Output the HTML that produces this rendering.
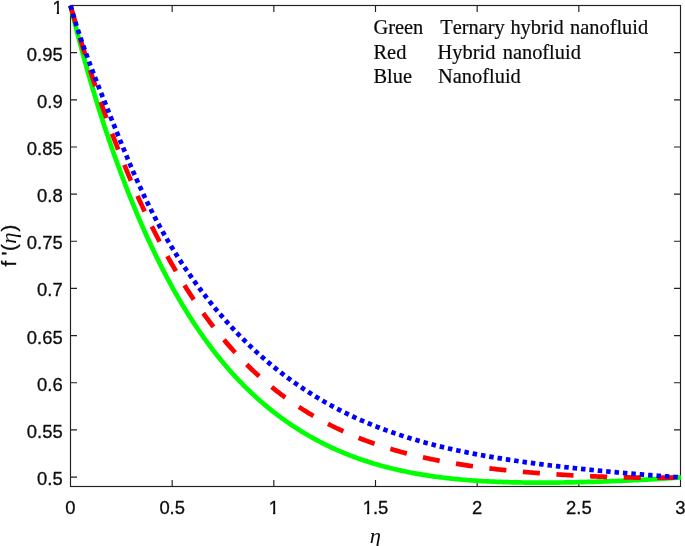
<!DOCTYPE html>
<html lang="en"><head><meta charset="utf-8"><title>f'(η) profile</title>
<style>
html,body{margin:0;padding:0;background:#fff;}
body{width:685px;height:546px;overflow:hidden;}
svg{display:block;}
.t{font-family:"Liberation Sans",Arial,Helvetica,sans-serif;font-size:19.2px;fill:#0c0c0c;stroke:#0c0c0c;stroke-width:0.3px;}
.l{font-family:"Liberation Serif","Times New Roman",serif;font-size:20.4px;fill:#0a0a0a;stroke:#0a0a0a;stroke-width:0.2px;font-kerning:none;}
.e{font-family:"Liberation Serif","Times New Roman",serif;font-style:italic;stroke:none;}
</style></head>
<body>
<svg width="685" height="546" viewBox="0 0 685 546">
<rect width="685" height="546" fill="#fff"/>
<defs><clipPath id="c1"><rect x="-1" y="-23.04" width="15.36" height="20.66"/><rect x="4.53" y="-2.63" width="2.30" height="3.23"/></clipPath></defs>
<rect x="70.5" y="5.5" width="610.0" height="481.0" fill="none" stroke="#202020" stroke-width="1.15"/>
<path d="M172.17,486.5v-6.5M172.17,5.5v6.5M273.83,486.5v-6.5M273.83,5.5v6.5M375.50,486.5v-6.5M375.50,5.5v6.5M477.17,486.5v-6.5M477.17,5.5v6.5M578.83,486.5v-6.5M578.83,5.5v6.5M70.5,52.66h6.5M680.5,52.66h-6.5M70.5,99.81h6.5M680.5,99.81h-6.5M70.5,146.97h6.5M680.5,146.97h-6.5M70.5,194.13h6.5M680.5,194.13h-6.5M70.5,241.28h6.5M680.5,241.28h-6.5M70.5,288.44h6.5M680.5,288.44h-6.5M70.5,335.60h6.5M680.5,335.60h-6.5M70.5,382.76h6.5M680.5,382.76h-6.5M70.5,429.91h6.5M680.5,429.91h-6.5M70.5,477.07h6.5M680.5,477.07h-6.5" fill="none" stroke="#202020" stroke-width="1.15"/>
<path d="M70.50,5.50 L72.03,11.79 L73.56,17.99 L75.09,24.09 L76.62,30.11 L78.15,36.04 L79.68,41.89 L81.21,47.65 L82.74,53.34 L84.27,58.94 L85.80,64.46 L87.33,69.91 L88.86,75.28 L90.39,80.58 L91.92,85.81 L93.45,90.97 L94.98,96.06 L96.51,101.09 L98.04,106.05 L99.57,110.94 L101.10,115.77 L102.63,120.54 L104.16,125.25 L105.69,129.90 L107.22,134.50 L108.75,139.03 L110.28,143.52 L111.81,147.94 L113.34,152.32 L114.87,156.64 L116.40,160.91 L117.93,165.13 L119.46,169.30 L120.99,173.42 L122.52,177.49 L124.05,181.52 L125.58,185.49 L127.11,189.43 L128.64,193.32 L130.17,197.16 L131.70,200.96 L133.23,204.72 L134.76,208.44 L136.29,212.11 L137.82,215.74 L139.35,219.33 L140.88,222.88 L142.41,226.39 L143.94,229.86 L145.47,233.29 L147.00,236.67 L148.53,240.02 L150.06,243.34 L151.59,246.61 L153.12,249.84 L154.65,253.04 L156.18,256.20 L157.71,259.32 L159.24,262.40 L160.77,265.45 L162.30,268.46 L163.83,271.44 L165.36,274.38 L166.89,277.29 L168.42,280.16 L169.95,282.99 L171.48,285.80 L173.02,288.56 L174.55,291.30 L176.08,294.00 L177.61,296.67 L179.14,299.31 L180.67,301.91 L182.20,304.49 L183.73,307.03 L185.26,309.54 L186.79,312.02 L188.32,314.47 L189.85,316.89 L191.38,319.28 L192.91,321.64 L194.44,323.97 L195.97,326.27 L197.50,328.55 L199.03,330.79 L200.56,333.01 L202.09,335.20 L203.62,337.37 L205.15,339.50 L206.68,341.61 L208.21,343.70 L209.74,345.76 L211.27,347.79 L212.80,349.80 L214.33,351.78 L215.86,353.73 L217.39,355.67 L218.92,357.58 L220.45,359.46 L221.98,361.32 L223.51,363.16 L225.04,364.97 L226.57,366.76 L228.10,368.53 L229.63,370.28 L231.16,372.00 L232.69,373.70 L234.22,375.38 L235.75,377.04 L237.28,378.68 L238.81,380.30 L240.34,381.90 L241.87,383.47 L243.40,385.03 L244.93,386.57 L246.46,388.08 L247.99,389.58 L249.52,391.06 L251.05,392.52 L252.58,393.96 L254.11,395.38 L255.64,396.78 L257.17,398.17 L258.70,399.54 L260.23,400.89 L261.76,402.22 L263.29,403.54 L264.82,404.84 L266.35,406.12 L267.88,407.38 L269.41,408.63 L270.94,409.86 L272.47,411.08 L274.00,412.28 L275.53,413.47 L277.06,414.64 L278.59,415.79 L280.12,416.93 L281.65,418.05 L283.18,419.16 L284.71,420.26 L286.24,421.34 L287.77,422.41 L289.30,423.46 L290.83,424.50 L292.36,425.52 L293.89,426.53 L295.42,427.53 L296.95,428.51 L298.48,429.48 L300.01,430.44 L301.54,431.39 L303.07,432.32 L304.60,433.24 L306.13,434.15 L307.66,435.04 L309.19,435.93 L310.72,436.80 L312.25,437.66 L313.78,438.50 L315.31,439.34 L316.84,440.16 L318.37,440.97 L319.90,441.78 L321.43,442.57 L322.96,443.34 L324.49,444.11 L326.02,444.87 L327.55,445.61 L329.08,446.35 L330.61,447.07 L332.14,447.79 L333.67,448.49 L335.20,449.18 L336.73,449.87 L338.26,450.54 L339.79,451.20 L341.32,451.86 L342.85,452.50 L344.38,453.13 L345.91,453.76 L347.44,454.37 L348.97,454.98 L350.50,455.57 L352.03,456.16 L353.56,456.74 L355.09,457.31 L356.62,457.87 L358.15,458.42 L359.68,458.96 L361.21,459.49 L362.74,460.01 L364.27,460.53 L365.80,461.04 L367.33,461.54 L368.86,462.03 L370.39,462.51 L371.92,462.99 L373.45,463.45 L374.98,463.91 L376.52,464.36 L378.05,464.81 L379.58,465.24 L381.11,465.67 L382.64,466.09 L384.17,466.51 L385.70,466.91 L387.23,467.31 L388.76,467.71 L390.29,468.09 L391.82,468.47 L393.35,468.84 L394.88,469.20 L396.41,469.56 L397.94,469.91 L399.47,470.26 L401.00,470.60 L402.53,470.93 L404.06,471.25 L405.59,471.57 L407.12,471.88 L408.65,472.19 L410.18,472.49 L411.71,472.79 L413.24,473.08 L414.77,473.36 L416.30,473.64 L417.83,473.91 L419.36,474.18 L420.89,474.44 L422.42,474.69 L423.95,474.94 L425.48,475.19 L427.01,475.43 L428.54,475.66 L430.07,475.89 L431.60,476.11 L433.13,476.33 L434.66,476.55 L436.19,476.75 L437.72,476.96 L439.25,477.16 L440.78,477.35 L442.31,477.54 L443.84,477.73 L445.37,477.91 L446.90,478.09 L448.43,478.26 L449.96,478.43 L451.49,478.60 L453.02,478.76 L454.55,478.91 L456.08,479.06 L457.61,479.21 L459.14,479.36 L460.67,479.50 L462.20,479.63 L463.73,479.76 L465.26,479.89 L466.79,480.02 L468.32,480.14 L469.85,480.26 L471.38,480.37 L472.91,480.48 L474.44,480.59 L475.97,480.70 L477.50,480.80 L479.03,480.89 L480.56,480.99 L482.09,481.08 L483.62,481.17 L485.15,481.25 L486.68,481.34 L488.21,481.42 L489.74,481.49 L491.27,481.57 L492.80,481.64 L494.33,481.70 L495.86,481.77 L497.39,481.83 L498.92,481.89 L500.45,481.95 L501.98,482.00 L503.51,482.06 L505.04,482.10 L506.57,482.15 L508.10,482.20 L509.63,482.24 L511.16,482.28 L512.69,482.32 L514.22,482.35 L515.75,482.39 L517.28,482.42 L518.81,482.44 L520.34,482.47 L521.87,482.50 L523.40,482.52 L524.93,482.54 L526.46,482.56 L527.99,482.57 L529.52,482.59 L531.05,482.60 L532.58,482.61 L534.11,482.62 L535.64,482.63 L537.17,482.63 L538.70,482.64 L540.23,482.64 L541.76,482.64 L543.29,482.64 L544.82,482.64 L546.35,482.63 L547.88,482.63 L549.41,482.62 L550.94,482.61 L552.47,482.60 L554.00,482.59 L555.53,482.57 L557.06,482.56 L558.59,482.54 L560.12,482.52 L561.65,482.50 L563.18,482.48 L564.71,482.46 L566.24,482.44 L567.77,482.41 L569.30,482.38 L570.83,482.36 L572.36,482.33 L573.89,482.30 L575.42,482.27 L576.95,482.23 L578.48,482.20 L580.02,482.17 L581.55,482.13 L583.08,482.09 L584.61,482.05 L586.14,482.01 L587.67,481.97 L589.20,481.93 L590.73,481.89 L592.26,481.85 L593.79,481.80 L595.32,481.75 L596.85,481.71 L598.38,481.66 L599.91,481.61 L601.44,481.56 L602.97,481.51 L604.50,481.45 L606.03,481.40 L607.56,481.34 L609.09,481.29 L610.62,481.23 L612.15,481.17 L613.68,481.11 L615.21,481.05 L616.74,480.99 L618.27,480.93 L619.80,480.87 L621.33,480.80 L622.86,480.74 L624.39,480.67 L625.92,480.60 L627.45,480.54 L628.98,480.47 L630.51,480.40 L632.04,480.32 L633.57,480.25 L635.10,480.18 L636.63,480.10 L638.16,480.03 L639.69,479.95 L641.22,479.87 L642.75,479.79 L644.28,479.71 L645.81,479.63 L647.34,479.55 L648.87,479.46 L650.40,479.38 L651.93,479.29 L653.46,479.20 L654.99,479.11 L656.52,479.02 L658.05,478.93 L659.58,478.84 L661.11,478.75 L662.64,478.65 L664.17,478.55 L665.70,478.46 L667.23,478.36 L668.76,478.26 L670.29,478.15 L671.82,478.05 L673.35,477.95 L674.88,477.84 L676.41,477.73 L677.94,477.62 L679.47,477.51 L681.00,477.40" fill="none" stroke="#00ff00" stroke-width="4.7" stroke-linejoin="round"/>
<path d="M70.50,5.50 L72.03,10.85 L73.56,16.15 L75.09,21.39 L76.62,26.59 L78.15,31.73 L79.68,36.83 L81.21,41.87 L82.74,46.86 L84.27,51.81 L85.80,56.70 L87.33,61.55 L88.86,66.34 L90.39,71.09 L91.92,75.79 L93.45,80.45 L94.98,85.06 L96.51,89.62 L98.04,94.13 L99.57,98.60 L101.10,103.03 L102.63,107.41 L104.16,111.74 L105.69,116.03 L107.22,120.28 L108.75,124.48 L110.28,128.64 L111.81,132.76 L113.34,136.83 L114.87,140.86 L116.40,144.85 L117.93,148.80 L119.46,152.71 L120.99,156.58 L122.52,160.40 L124.05,164.19 L125.58,167.94 L127.11,171.64 L128.64,175.31 L130.17,178.94 L131.70,182.53 L133.23,186.08 L134.76,189.60 L136.29,193.08 L137.82,196.52 L139.35,199.92 L140.88,203.29 L142.41,206.62 L143.94,209.92 L145.47,213.18 L147.00,216.40 L148.53,219.59 L150.06,222.75 L151.59,225.87 L153.12,228.96 L154.65,232.01 L156.18,235.03 L157.71,238.02 L159.24,240.98 L160.77,243.90 L162.30,246.79 L163.83,249.65 L165.36,252.47 L166.89,255.27 L168.42,258.03 L169.95,260.77 L171.48,263.47 L173.02,266.14 L174.55,268.79 L176.08,271.40 L177.61,273.99 L179.14,276.54 L180.67,279.07 L182.20,281.57 L183.73,284.04 L185.26,286.48 L186.79,288.90 L188.32,291.29 L189.85,293.65 L191.38,295.98 L192.91,298.29 L194.44,300.57 L195.97,302.83 L197.50,305.06 L199.03,307.26 L200.56,309.44 L202.09,311.59 L203.62,313.72 L205.15,315.83 L206.68,317.91 L208.21,319.96 L209.74,321.99 L211.27,324.00 L212.80,325.99 L214.33,327.95 L215.86,329.89 L217.39,331.81 L218.92,333.70 L220.45,335.58 L221.98,337.43 L223.51,339.26 L225.04,341.06 L226.57,342.85 L228.10,344.62 L229.63,346.36 L231.16,348.08 L232.69,349.79 L234.22,351.47 L235.75,353.14 L237.28,354.78 L238.81,356.41 L240.34,358.01 L241.87,359.60 L243.40,361.17 L244.93,362.71 L246.46,364.25 L247.99,365.76 L249.52,367.25 L251.05,368.73 L252.58,370.19 L254.11,371.63 L255.64,373.05 L257.17,374.46 L258.70,375.85 L260.23,377.22 L261.76,378.58 L263.29,379.92 L264.82,381.25 L266.35,382.56 L267.88,383.85 L269.41,385.13 L270.94,386.39 L272.47,387.63 L274.00,388.87 L275.53,390.08 L277.06,391.28 L278.59,392.47 L280.12,393.64 L281.65,394.80 L283.18,395.95 L284.71,397.08 L286.24,398.19 L287.77,399.30 L289.30,400.39 L290.83,401.46 L292.36,402.53 L293.89,403.58 L295.42,404.61 L296.95,405.64 L298.48,406.65 L300.01,407.65 L301.54,408.64 L303.07,409.61 L304.60,410.57 L306.13,411.53 L307.66,412.47 L309.19,413.39 L310.72,414.31 L312.25,415.21 L313.78,416.11 L315.31,416.99 L316.84,417.86 L318.37,418.72 L319.90,419.57 L321.43,420.41 L322.96,421.24 L324.49,422.06 L326.02,422.87 L327.55,423.67 L329.08,424.45 L330.61,425.23 L332.14,426.00 L333.67,426.76 L335.20,427.51 L336.73,428.25 L338.26,428.98 L339.79,429.70 L341.32,430.41 L342.85,431.11 L344.38,431.80 L345.91,432.49 L347.44,433.16 L348.97,433.83 L350.50,434.48 L352.03,435.13 L353.56,435.77 L355.09,436.41 L356.62,437.03 L358.15,437.65 L359.68,438.25 L361.21,438.85 L362.74,439.44 L364.27,440.03 L365.80,440.60 L367.33,441.17 L368.86,441.73 L370.39,442.29 L371.92,442.83 L373.45,443.37 L374.98,443.90 L376.52,444.43 L378.05,444.94 L379.58,445.45 L381.11,445.96 L382.64,446.45 L384.17,446.94 L385.70,447.42 L387.23,447.90 L388.76,448.37 L390.29,448.83 L391.82,449.29 L393.35,449.74 L394.88,450.18 L396.41,450.62 L397.94,451.06 L399.47,451.48 L401.00,451.90 L402.53,452.32 L404.06,452.72 L405.59,453.13 L407.12,453.53 L408.65,453.92 L410.18,454.30 L411.71,454.68 L413.24,455.06 L414.77,455.43 L416.30,455.80 L417.83,456.16 L419.36,456.51 L420.89,456.86 L422.42,457.21 L423.95,457.55 L425.48,457.88 L427.01,458.21 L428.54,458.54 L430.07,458.86 L431.60,459.18 L433.13,459.49 L434.66,459.80 L436.19,460.10 L437.72,460.40 L439.25,460.70 L440.78,460.99 L442.31,461.28 L443.84,461.56 L445.37,461.84 L446.90,462.11 L448.43,462.38 L449.96,462.65 L451.49,462.91 L453.02,463.17 L454.55,463.43 L456.08,463.68 L457.61,463.93 L459.14,464.18 L460.67,464.42 L462.20,464.66 L463.73,464.89 L465.26,465.12 L466.79,465.35 L468.32,465.58 L469.85,465.80 L471.38,466.02 L472.91,466.23 L474.44,466.44 L475.97,466.65 L477.50,466.86 L479.03,467.06 L480.56,467.27 L482.09,467.46 L483.62,467.66 L485.15,467.85 L486.68,468.04 L488.21,468.23 L489.74,468.41 L491.27,468.60 L492.80,468.77 L494.33,468.95 L495.86,469.13 L497.39,469.30 L498.92,469.47 L500.45,469.63 L501.98,469.80 L503.51,469.96 L505.04,470.12 L506.57,470.28 L508.10,470.44 L509.63,470.59 L511.16,470.74 L512.69,470.89 L514.22,471.04 L515.75,471.18 L517.28,471.33 L518.81,471.47 L520.34,471.61 L521.87,471.75 L523.40,471.88 L524.93,472.02 L526.46,472.15 L527.99,472.28 L529.52,472.40 L531.05,472.53 L532.58,472.66 L534.11,472.78 L535.64,472.90 L537.17,473.02 L538.70,473.14 L540.23,473.25 L541.76,473.37 L543.29,473.48 L544.82,473.59 L546.35,473.70 L547.88,473.81 L549.41,473.91 L550.94,474.02 L552.47,474.12 L554.00,474.22 L555.53,474.32 L557.06,474.42 L558.59,474.52 L560.12,474.62 L561.65,474.71 L563.18,474.80 L564.71,474.89 L566.24,474.98 L567.77,475.07 L569.30,475.16 L570.83,475.24 L572.36,475.33 L573.89,475.41 L575.42,475.49 L576.95,475.57 L578.48,475.65 L580.02,475.73 L581.55,475.80 L583.08,475.88 L584.61,475.95 L586.14,476.02 L587.67,476.09 L589.20,476.16 L590.73,476.23 L592.26,476.30 L593.79,476.36 L595.32,476.42 L596.85,476.49 L598.38,476.55 L599.91,476.61 L601.44,476.66 L602.97,476.72 L604.50,476.78 L606.03,476.83 L607.56,476.88 L609.09,476.93 L610.62,476.98 L612.15,477.03 L613.68,477.07 L615.21,477.12 L616.74,477.16 L618.27,477.20 L619.80,477.25 L621.33,477.28 L622.86,477.32 L624.39,477.36 L625.92,477.39 L627.45,477.42 L628.98,477.45 L630.51,477.48 L632.04,477.51 L633.57,477.54 L635.10,477.56 L636.63,477.58 L638.16,477.61 L639.69,477.62 L641.22,477.64 L642.75,477.66 L644.28,477.67 L645.81,477.68 L647.34,477.69 L648.87,477.70 L650.40,477.71 L651.93,477.71 L653.46,477.72 L654.99,477.72 L656.52,477.72 L658.05,477.71 L659.58,477.71 L661.11,477.70 L662.64,477.69 L664.17,477.68 L665.70,477.66 L667.23,477.65 L668.76,477.63 L670.29,477.61 L671.82,477.59 L673.35,477.56 L674.88,477.53 L676.41,477.50 L677.94,477.47 L679.47,477.44 L681.00,477.40" fill="none" stroke="#ff0000" stroke-width="4.7" stroke-dasharray="17.1 16.57" stroke-linejoin="round"/>
<path d="M70.50,5.50 L72.03,10.81 L73.56,15.97 L75.09,20.98 L76.62,25.85 L78.15,30.60 L79.68,35.23 L81.21,39.76 L82.74,44.20 L84.27,48.55 L85.80,52.83 L87.33,57.03 L88.86,61.18 L90.39,65.27 L91.92,69.32 L93.45,73.32 L94.98,77.30 L96.51,81.24 L98.04,85.15 L99.57,89.05 L101.10,92.92 L102.63,96.79 L104.16,100.64 L105.69,104.48 L107.22,108.31 L108.75,112.14 L110.28,115.96 L111.81,119.78 L113.34,123.59 L114.87,127.40 L116.40,131.19 L117.93,134.98 L119.46,138.75 L120.99,142.51 L122.52,146.26 L124.05,149.98 L125.58,153.68 L127.11,157.35 L128.64,160.99 L130.17,164.60 L131.70,168.18 L133.23,171.72 L134.76,175.23 L136.29,178.69 L137.82,182.12 L139.35,185.50 L140.88,188.85 L142.41,192.14 L143.94,195.40 L145.47,198.61 L147.00,201.78 L148.53,204.90 L150.06,207.98 L151.59,211.01 L153.12,214.00 L154.65,216.95 L156.18,219.85 L157.71,222.71 L159.24,225.53 L160.77,228.32 L162.30,231.06 L163.83,233.77 L165.36,236.44 L166.89,239.08 L168.42,241.68 L169.95,244.25 L171.48,246.78 L173.02,249.29 L174.55,251.76 L176.08,254.20 L177.61,256.62 L179.14,259.00 L180.67,261.36 L182.20,263.69 L183.73,266.00 L185.26,268.27 L186.79,270.53 L188.32,272.75 L189.85,274.96 L191.38,277.14 L192.91,279.30 L194.44,281.43 L195.97,283.54 L197.50,285.63 L199.03,287.70 L200.56,289.75 L202.09,291.78 L203.62,293.78 L205.15,295.77 L206.68,297.74 L208.21,299.68 L209.74,301.61 L211.27,303.52 L212.80,305.41 L214.33,307.28 L215.86,309.13 L217.39,310.96 L218.92,312.78 L220.45,314.57 L221.98,316.35 L223.51,318.11 L225.04,319.85 L226.57,321.58 L228.10,323.29 L229.63,324.98 L231.16,326.65 L232.69,328.30 L234.22,329.94 L235.75,331.57 L237.28,333.17 L238.81,334.76 L240.34,336.33 L241.87,337.89 L243.40,339.43 L244.93,340.96 L246.46,342.47 L247.99,343.96 L249.52,345.44 L251.05,346.90 L252.58,348.35 L254.11,349.79 L255.64,351.21 L257.17,352.61 L258.70,354.00 L260.23,355.38 L261.76,356.74 L263.29,358.08 L264.82,359.42 L266.35,360.74 L267.88,362.04 L269.41,363.33 L270.94,364.61 L272.47,365.88 L274.00,367.13 L275.53,368.37 L277.06,369.59 L278.59,370.81 L280.12,372.01 L281.65,373.20 L283.18,374.37 L284.71,375.54 L286.24,376.69 L287.77,377.82 L289.30,378.95 L290.83,380.07 L292.36,381.17 L293.89,382.26 L295.42,383.34 L296.95,384.41 L298.48,385.47 L300.01,386.51 L301.54,387.55 L303.07,388.57 L304.60,389.59 L306.13,390.59 L307.66,391.58 L309.19,392.56 L310.72,393.53 L312.25,394.49 L313.78,395.44 L315.31,396.38 L316.84,397.31 L318.37,398.23 L319.90,399.14 L321.43,400.04 L322.96,400.93 L324.49,401.81 L326.02,402.68 L327.55,403.54 L329.08,404.40 L330.61,405.24 L332.14,406.07 L333.67,406.90 L335.20,407.71 L336.73,408.52 L338.26,409.32 L339.79,410.11 L341.32,410.89 L342.85,411.66 L344.38,412.42 L345.91,413.18 L347.44,413.93 L348.97,414.66 L350.50,415.39 L352.03,416.12 L353.56,416.83 L355.09,417.54 L356.62,418.23 L358.15,418.92 L359.68,419.61 L361.21,420.28 L362.74,420.95 L364.27,421.61 L365.80,422.26 L367.33,422.91 L368.86,423.54 L370.39,424.18 L371.92,424.80 L373.45,425.42 L374.98,426.03 L376.52,426.63 L378.05,427.22 L379.58,427.81 L381.11,428.40 L382.64,428.97 L384.17,429.54 L385.70,430.10 L387.23,430.66 L388.76,431.21 L390.29,431.75 L391.82,432.29 L393.35,432.82 L394.88,433.35 L396.41,433.87 L397.94,434.38 L399.47,434.89 L401.00,435.39 L402.53,435.89 L404.06,436.38 L405.59,436.87 L407.12,437.34 L408.65,437.82 L410.18,438.29 L411.71,438.75 L413.24,439.21 L414.77,439.66 L416.30,440.11 L417.83,440.55 L419.36,440.99 L420.89,441.42 L422.42,441.85 L423.95,442.27 L425.48,442.69 L427.01,443.11 L428.54,443.52 L430.07,443.92 L431.60,444.32 L433.13,444.71 L434.66,445.11 L436.19,445.49 L437.72,445.87 L439.25,446.25 L440.78,446.63 L442.31,446.99 L443.84,447.36 L445.37,447.72 L446.90,448.08 L448.43,448.43 L449.96,448.78 L451.49,449.13 L453.02,449.47 L454.55,449.81 L456.08,450.14 L457.61,450.47 L459.14,450.80 L460.67,451.12 L462.20,451.44 L463.73,451.76 L465.26,452.07 L466.79,452.38 L468.32,452.69 L469.85,452.99 L471.38,453.29 L472.91,453.59 L474.44,453.88 L475.97,454.17 L477.50,454.46 L479.03,454.75 L480.56,455.03 L482.09,455.31 L483.62,455.58 L485.15,455.86 L486.68,456.13 L488.21,456.39 L489.74,456.66 L491.27,456.92 L492.80,457.18 L494.33,457.44 L495.86,457.69 L497.39,457.94 L498.92,458.19 L500.45,458.44 L501.98,458.69 L503.51,458.93 L505.04,459.17 L506.57,459.41 L508.10,459.64 L509.63,459.88 L511.16,460.11 L512.69,460.34 L514.22,460.56 L515.75,460.79 L517.28,461.01 L518.81,461.23 L520.34,461.45 L521.87,461.67 L523.40,461.88 L524.93,462.10 L526.46,462.31 L527.99,462.52 L529.52,462.72 L531.05,462.93 L532.58,463.13 L534.11,463.34 L535.64,463.54 L537.17,463.74 L538.70,463.93 L540.23,464.13 L541.76,464.32 L543.29,464.52 L544.82,464.71 L546.35,464.90 L547.88,465.09 L549.41,465.27 L550.94,465.46 L552.47,465.64 L554.00,465.82 L555.53,466.01 L557.06,466.19 L558.59,466.36 L560.12,466.54 L561.65,466.72 L563.18,466.89 L564.71,467.07 L566.24,467.24 L567.77,467.41 L569.30,467.58 L570.83,467.75 L572.36,467.91 L573.89,468.08 L575.42,468.25 L576.95,468.41 L578.48,468.57 L580.02,468.74 L581.55,468.90 L583.08,469.06 L584.61,469.21 L586.14,469.37 L587.67,469.53 L589.20,469.68 L590.73,469.84 L592.26,469.99 L593.79,470.15 L595.32,470.30 L596.85,470.45 L598.38,470.60 L599.91,470.75 L601.44,470.90 L602.97,471.04 L604.50,471.19 L606.03,471.34 L607.56,471.48 L609.09,471.62 L610.62,471.77 L612.15,471.91 L613.68,472.05 L615.21,472.19 L616.74,472.33 L618.27,472.47 L619.80,472.61 L621.33,472.74 L622.86,472.88 L624.39,473.01 L625.92,473.15 L627.45,473.28 L628.98,473.41 L630.51,473.55 L632.04,473.68 L633.57,473.81 L635.10,473.94 L636.63,474.06 L638.16,474.19 L639.69,474.32 L641.22,474.44 L642.75,474.57 L644.28,474.69 L645.81,474.82 L647.34,474.94 L648.87,475.06 L650.40,475.18 L651.93,475.30 L653.46,475.42 L654.99,475.54 L656.52,475.66 L658.05,475.77 L659.58,475.89 L661.11,476.00 L662.64,476.12 L664.17,476.23 L665.70,476.34 L667.23,476.45 L668.76,476.56 L670.29,476.67 L671.82,476.78 L673.35,476.88 L674.88,476.99 L676.41,477.09 L677.94,477.20 L679.47,477.30 L681.00,477.40" fill="none" stroke="#0000ff" stroke-width="4.7" stroke-dasharray="4.5 3.92" stroke-linejoin="round"/>
<g class="t" text-anchor="middle">
<text transform="translate(70.50,514.20) scale(0.96,1)">0</text>
<text transform="translate(172.17,514.20) scale(0.96,1)">0.5</text>
<g transform="translate(273.83,514.20) scale(0.96,1)" text-anchor="start"><g transform="translate(-5.34,0)" clip-path="url(#c1)"><text>1</text></g></g>
<g transform="translate(375.50,514.20) scale(0.96,1)" text-anchor="start"><g transform="translate(-13.35,0)" clip-path="url(#c1)"><text>1</text></g><text x="-2.67">.5</text></g>
<text transform="translate(477.17,514.20) scale(0.96,1)">2</text>
<text transform="translate(578.83,514.20) scale(0.96,1)">2.5</text>
<text transform="translate(680.50,514.20) scale(0.96,1)">3</text>
</g>
<g class="t" text-anchor="end">
<g transform="translate(62.70,13.50) scale(0.96,1)" text-anchor="start"><g transform="translate(-10.68,0)" clip-path="url(#c1)"><text>1</text></g></g>
<text transform="translate(62.70,60.66) scale(0.96,1)">0.95</text>
<text transform="translate(62.70,107.81) scale(0.96,1)">0.9</text>
<text transform="translate(62.70,154.97) scale(0.96,1)">0.85</text>
<text transform="translate(62.70,202.13) scale(0.96,1)">0.8</text>
<text transform="translate(62.70,249.28) scale(0.96,1)">0.75</text>
<text transform="translate(62.70,296.44) scale(0.96,1)">0.7</text>
<text transform="translate(62.70,343.60) scale(0.96,1)">0.65</text>
<text transform="translate(62.70,390.76) scale(0.96,1)">0.6</text>
<text transform="translate(62.70,437.91) scale(0.96,1)">0.55</text>
<text transform="translate(62.70,485.07) scale(0.96,1)">0.5</text>
</g>
<g class="t" style="font-size:20.5px" transform="translate(16.2,246) rotate(-90)"><text x="-20.5" y="0">f</text><text x="-9.5" y="0">'</text><text x="-5.0" y="0">(</text><text class="e" transform="translate(2.2,0) scale(1.1,1)">η</text><text x="14.5" y="0">)</text></g>
<text class="t e" style="font-size:20.5px" text-anchor="middle" transform="translate(375.3,542.6) scale(1.1,1)">η</text>
<text class="l" x="373.5" y="34.0">Green</text><text class="l" x="440.2" y="34.0">Ternary</text><text class="l" x="510.4" y="34.0">hybrid</text><text class="l" x="570.0" y="34.0">nanofluid</text><text class="l" x="373.5" y="58.5">Red</text><text class="l" x="437.6" y="58.5">Hybrid</text><text class="l" x="502.7" y="58.5">nanofluid</text><text class="l" x="373.5" y="82.9">Blue</text><text class="l" x="438.1" y="82.9">Nanofluid</text>
</svg>
</body></html>
